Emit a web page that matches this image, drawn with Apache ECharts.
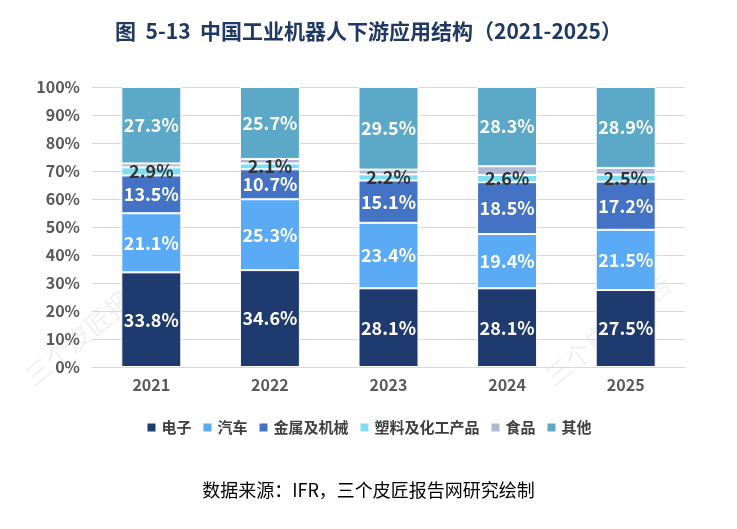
<!DOCTYPE html>
<html><head><meta charset="utf-8">
<script src="https://cdn.jsdelivr.net/npm/echarts@6/dist/echarts.min.js"></script>
<style>html,body{margin:0;padding:0;background:#fff}#c{width:737px;height:529px}</style>
</head><body><div id="c"></div>
<script>
const categories = ['2021','2022','2023','2024','2025'];
const electronics = [33.8, 34.6, 28.1, 28.1, 27.5];
const automotive = [21.1, 25.3, 23.4, 19.4, 21.5];
const metalMachinery = [13.5, 10.7, 15.1, 18.5, 17.2];
const plasticsChem = [2.9, 2.1, 2.2, 2.6, 2.5];
const food = [1.4, 1.6, 1.7, 3.1, 2.4];
const others = [27.3, 25.7, 29.5, 28.3, 28.9];
const yTicks = [0,10,20,30,40,50,60,70,80,90,100];

const FONT = '"Noto Sans CJK SC","Noto Sans",sans-serif';
function mk(name, data, color, labelColor, showLabel) {
  return {
    name, type: 'bar', stack: 'total', data, barWidth: 60,
    itemStyle: {color, borderColor: '#fff', borderWidth: 1},
    label: {show: showLabel, position: 'inside', formatter: p => p.value.toFixed(1) + '%',
      color: labelColor, fontSize: 18, fontWeight: 'bold', fontFamily: FONT}
  };
}
const chart = echarts.init(document.getElementById('c'));
chart.setOption({
  animation: false,
  title: {text: '图  5-13  中国工业机器人下游应用结构（2021-2025）', left: 'center', top: 16,
    textStyle: {color: '#1f3864', fontSize: 21, fontWeight: 'bold', fontFamily: FONT}},
  grid: {left: 92, right: 52, top: 87, bottom: 162},
  legend: {bottom: 89, left: 'center', itemWidth: 10, itemHeight: 10, itemGap: 10,
    icon: 'rect', textStyle: {color: '#404040', fontSize: 15, fontWeight: 'bold', fontFamily: FONT},
    data: ['电子','汽车','金属及机械','塑料及化工产品','食品','其他']},
  xAxis: {type: 'category', data: categories,
    axisLine: {lineStyle: {color: '#d9d9d9'}}, axisTick: {show: false},
    axisLabel: {color: '#595959', fontSize: 16, fontWeight: 'bold', margin: 10, fontFamily: FONT}},
  yAxis: {type: 'value', min: 0, max: 100, interval: 10,
    axisLabel: {formatter: v => yTicks.includes(v) ? v + '%' : '', color: '#595959', fontSize: 16, fontWeight: 'bold', margin: 12, fontFamily: FONT},
    splitLine: {lineStyle: {color: '#d9d9d9'}}, axisLine: {show: false}, axisTick: {show: false}},
  graphic: [
    {type: 'text', left: 'center', top: 481, style: {text: '数据来源：IFR，三个皮匠报告网研究绘制', fill: '#000', font: '18px ' + FONT}},
    {type: 'text', x: 20, y: 370, rotation: Math.PI * 40 / 180, style: {text: '三个皮匠报告', fill: 'rgba(0,0,0,0.06)', font: '26px ' + FONT}},
    {type: 'text', x: 540, y: 370, rotation: Math.PI * 40 / 180, style: {text: '三个皮匠报告', fill: 'rgba(0,0,0,0.06)', font: '26px ' + FONT}}
  ],
  series: [
    mk('电子', electronics, '#1f3a6e', '#fff', true),
    mk('汽车', automotive, '#5aaaf6', '#fff', true),
    mk('金属及机械', metalMachinery, '#4472c4', '#fff', true),
    mk('塑料及化工产品', plasticsChem, '#7fdff2', '#333', true),
    mk('食品', food, '#b1b7d6', '#333', false),
    mk('其他', others, '#5ba8c8', '#fff', true)
  ]
});
</script></body></html>
